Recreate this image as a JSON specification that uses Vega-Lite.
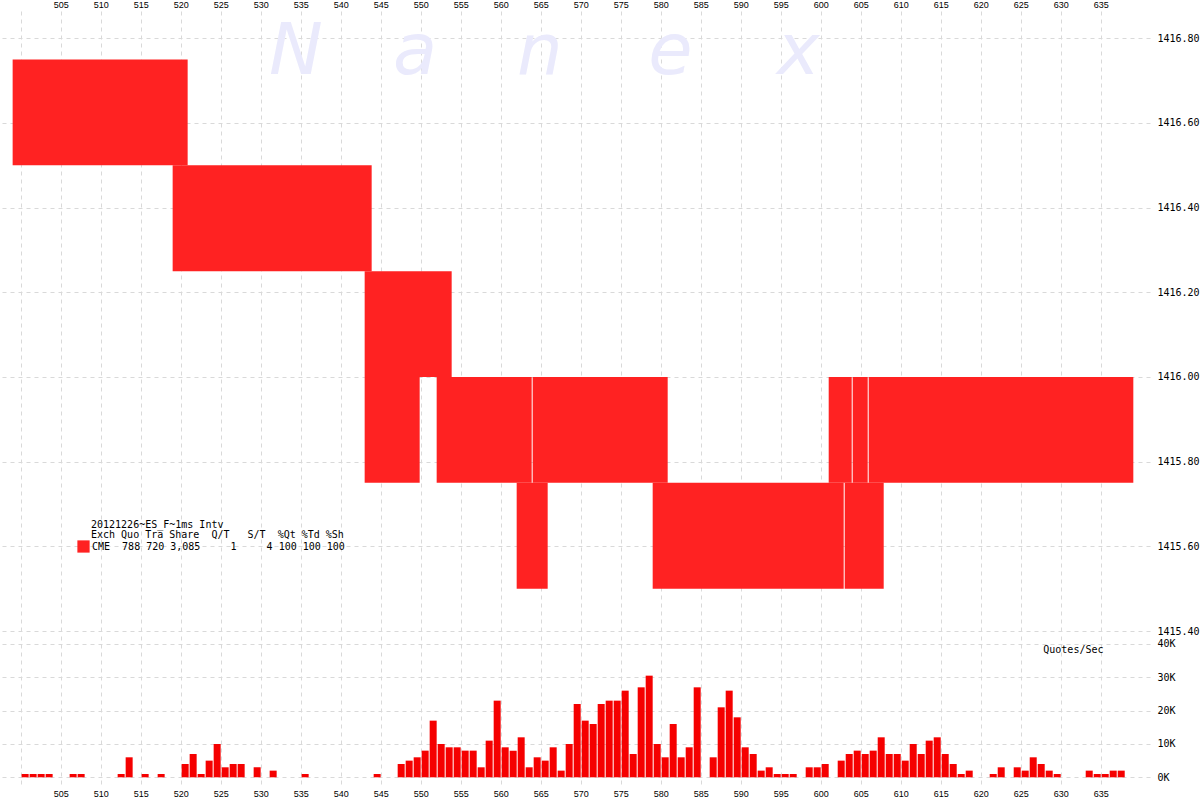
{
  "$schema": "https://vega.github.io/schema/vega-lite/v6.json",
  "padding": 0,
  "background": "white",
  "spacing": 0,
  "config": {
    "view": {"stroke": null},
    "axis": {"domain": false, "ticks": false, "gridColor": "#d9d9d9", "gridDash": [4, 4], "gridWidth": 1, "labelColor": "#000000", "titleColor": "#000000"},
    "legend": {"labelFont": "DejaVu Sans Mono", "titleFont": "DejaVu Sans Mono"}
  },
  "vconcat": [
    {
      "width": 1150,
      "height": 620,
      "layer": [
        {
          "data": {"values": [
            {"ch": "N", "t": 534.4, "p": 1416.716},
            {"ch": "a", "t": 549.3, "p": 1416.716},
            {"ch": "n", "t": 564.9, "p": 1416.716},
            {"ch": "e", "t": 581.2, "p": 1416.716},
            {"ch": "x", "t": 597.2, "p": 1416.716}
          ]},
          "mark": {"type": "text", "font": "DejaVu Sans", "fontStyle": "italic", "fontSize": 72, "color": "#eaeafc", "baseline": "alphabetic", "align": "center"},
          "encoding": {
            "x": {"field": "t", "type": "quantitative"},
            "y": {"field": "p", "type": "quantitative"},
            "text": {"field": "ch"}
          }
        },
        {
          "data": {"values": [
            {"start": 499, "end": 521, "bid": 1416.50, "ask": 1416.75, "exch": "CME"},
            {"start": 519, "end": 544, "bid": 1416.25, "ask": 1416.50, "exch": "CME"},
            {"start": 543, "end": 554, "bid": 1416.00, "ask": 1416.25, "exch": "CME"},
            {"start": 543, "end": 550, "bid": 1415.75, "ask": 1416.00, "exch": "CME"},
            {"start": 552, "end": 564, "bid": 1415.75, "ask": 1416.00, "exch": "CME"},
            {"start": 564, "end": 581, "bid": 1415.75, "ask": 1416.00, "exch": "CME"},
            {"start": 562, "end": 566, "bid": 1415.50, "ask": 1415.75, "exch": "CME"},
            {"start": 579, "end": 603, "bid": 1415.50, "ask": 1415.75, "exch": "CME"},
            {"start": 603, "end": 608, "bid": 1415.50, "ask": 1415.75, "exch": "CME"},
            {"start": 601, "end": 604, "bid": 1415.75, "ask": 1416.00, "exch": "CME"},
            {"start": 604, "end": 606, "bid": 1415.75, "ask": 1416.00, "exch": "CME"},
            {"start": 606, "end": 639.2, "bid": 1415.75, "ask": 1416.00, "exch": "CME"}
          ]},
          "mark": {"type": "rect", "x2Offset": -1},
          "encoding": {
            "x": {
              "field": "start", "type": "quantitative",
              "scale": {"domain": [497.42, 641.16], "nice": false, "zero": false},
              "axis": {"orient": "top", "title": null, "values": [500, 505, 510, 515, 520, 525, 530, 535, 540, 545, 550, 555, 560, 565, 570, 575, 580, 585, 590, 595, 600, 605, 610, 615, 620, 625, 630, 635], "labelExpr": "datum.value == 500 ? '' : datum.label", "labelFont": "Liberation Sans", "labelFontSize": 9, "labelPadding": 2, "grid": true}
            },
            "x2": {"field": "end"},
            "y": {
              "field": "bid", "type": "quantitative",
              "scale": {"domain": [1415.40, 1416.8645], "nice": false, "zero": false},
              "axis": {"orient": "right", "title": null, "values": [1415.4, 1415.6, 1415.8, 1416.0, 1416.2, 1416.4, 1416.6, 1416.8], "format": ".2f", "labelFont": "DejaVu Sans Mono", "labelFontSize": 10, "labelPadding": 7, "grid": true}
            },
            "y2": {"field": "ask"},
            "color": {
              "field": "exch", "type": "nominal",
              "scale": {"domain": ["CME"], "range": ["#ff2222"]},
              "legend": {
                "orient": "none", "legendX": 91, "legendY": 509,
                "title": ["20121226~ES_F~1ms Intv", "Exch\u00a0Quo\u00a0Tra\u00a0Share\u00a0\u00a0Q/T\u00a0\u00a0\u00a0S/T\u00a0\u00a0%Qt\u00a0%Td\u00a0%Sh"],
                "titleFontSize": 10, "titleFontWeight": "normal", "titleLineHeight": 10, "titlePadding": 0, "titleColor": "#000000", "titleLimit": 1000,
                "labelExpr": "datum.label + '\u00a0\u00a0788\u00a0720\u00a03,085\u00a0\u00a0\u00a0\u00a0\u00a01\u00a0\u00a0\u00a0\u00a0\u00a04\u00a0100\u00a0100\u00a0100'",
                "labelFontSize": 10, "labelColor": "#000000", "labelOffset": 2, "labelLimit": 1000,
                "symbolType": "square", "symbolSize": 150, "symbolStrokeWidth": 0, "symbolOffset": -14, "padding": 0
              }
            }
          }
        }
      ],
      "resolve": {"scale": {"x": "shared", "y": "shared"}}
    },
    {
      "width": 1150,
      "height": 152,
      "data": {"values": [
        {"t": 500, "q": 1000}, {"t": 501, "q": 1000}, {"t": 502, "q": 1000}, {"t": 503, "q": 1000},
        {"t": 506, "q": 1000}, {"t": 507, "q": 1000}, {"t": 512, "q": 1000}, {"t": 513, "q": 6000},
        {"t": 515, "q": 1000}, {"t": 517, "q": 1000}, {"t": 520, "q": 4000}, {"t": 521, "q": 7000},
        {"t": 522, "q": 1000}, {"t": 523, "q": 5000}, {"t": 524, "q": 10000}, {"t": 525, "q": 3000},
        {"t": 526, "q": 4000}, {"t": 527, "q": 4000}, {"t": 529, "q": 3000}, {"t": 531, "q": 2000},
        {"t": 535, "q": 1000}, {"t": 544, "q": 1000}, {"t": 547, "q": 4000}, {"t": 548, "q": 5000},
        {"t": 549, "q": 6000}, {"t": 550, "q": 8000}, {"t": 551, "q": 17000}, {"t": 552, "q": 10000},
        {"t": 553, "q": 9000}, {"t": 554, "q": 9000}, {"t": 555, "q": 8000}, {"t": 556, "q": 8000},
        {"t": 557, "q": 3000}, {"t": 558, "q": 11000}, {"t": 559, "q": 23000}, {"t": 560, "q": 9000},
        {"t": 561, "q": 8000}, {"t": 562, "q": 12000}, {"t": 563, "q": 3000}, {"t": 564, "q": 6000},
        {"t": 565, "q": 5000}, {"t": 566, "q": 9000}, {"t": 567, "q": 2000}, {"t": 568, "q": 10000},
        {"t": 569, "q": 22000}, {"t": 570, "q": 17000}, {"t": 571, "q": 16000}, {"t": 572, "q": 22000},
        {"t": 573, "q": 23000}, {"t": 574, "q": 23000}, {"t": 575, "q": 26000}, {"t": 576, "q": 7000},
        {"t": 577, "q": 27000}, {"t": 578, "q": 30500}, {"t": 579, "q": 10000}, {"t": 580, "q": 6000},
        {"t": 581, "q": 16000}, {"t": 582, "q": 6000}, {"t": 583, "q": 9000}, {"t": 584, "q": 27000},
        {"t": 586, "q": 6000}, {"t": 587, "q": 21000}, {"t": 588, "q": 26000}, {"t": 589, "q": 18000},
        {"t": 590, "q": 9000}, {"t": 591, "q": 7000}, {"t": 592, "q": 2000}, {"t": 593, "q": 3000},
        {"t": 594, "q": 1000}, {"t": 595, "q": 1000}, {"t": 596, "q": 1000}, {"t": 598, "q": 3000},
        {"t": 599, "q": 3000}, {"t": 600, "q": 4000}, {"t": 602, "q": 5000}, {"t": 603, "q": 7000},
        {"t": 604, "q": 8000}, {"t": 605, "q": 7000}, {"t": 606, "q": 8000}, {"t": 607, "q": 12000},
        {"t": 608, "q": 7000}, {"t": 609, "q": 7000}, {"t": 610, "q": 5000}, {"t": 611, "q": 10000},
        {"t": 612, "q": 7000}, {"t": 613, "q": 11000}, {"t": 614, "q": 12000}, {"t": 615, "q": 7000},
        {"t": 616, "q": 4000}, {"t": 617, "q": 1000}, {"t": 618, "q": 2000}, {"t": 621, "q": 1000},
        {"t": 622, "q": 3000}, {"t": 624, "q": 3000}, {"t": 625, "q": 2000}, {"t": 626, "q": 6000},
        {"t": 627, "q": 4000}, {"t": 628, "q": 2000}, {"t": 629, "q": 1000}, {"t": 633, "q": 2000},
        {"t": 634, "q": 1000}, {"t": 635, "q": 1000}, {"t": 636, "q": 2000}, {"t": 637, "q": 2000}
      ]},
      "mark": {"type": "bar", "color": "#f50000", "binSpacing": 1},
      "encoding": {
        "x": {
          "field": "t", "type": "quantitative", "bin": {"binned": true, "step": 1},
          "scale": {"domain": [497.42, 641.16], "nice": false, "zero": false},
          "axis": {"orient": "bottom", "title": null, "values": [500, 505, 510, 515, 520, 525, 530, 535, 540, 545, 550, 555, 560, 565, 570, 575, 580, 585, 590, 595, 600, 605, 610, 615, 620, 625, 630, 635], "labelExpr": "datum.value == 500 ? '' : datum.label", "labelFont": "Liberation Sans", "labelFontSize": 9, "labelPadding": 1, "grid": true}
        },
        "y": {
          "field": "q", "type": "quantitative",
          "scale": {"domain": [-3210, 42400], "nice": false, "zero": false},
          "axis": {"orient": "right", "values": [0, 10000, 20000, 30000, 40000], "labelExpr": "(datum.value / 1000) + 'K'", "labelFont": "DejaVu Sans Mono", "labelFontSize": 10, "labelPadding": 7, "grid": true,
                   "title": "Quotes/Sec", "titleFont": "DejaVu Sans Mono", "titleFontSize": 10, "titleFontWeight": "normal", "titleAngle": 0, "titleAlign": "right", "titleBaseline": "middle", "titleX": -47, "titleY": 13}
        }
      }
    }
  ]
}
